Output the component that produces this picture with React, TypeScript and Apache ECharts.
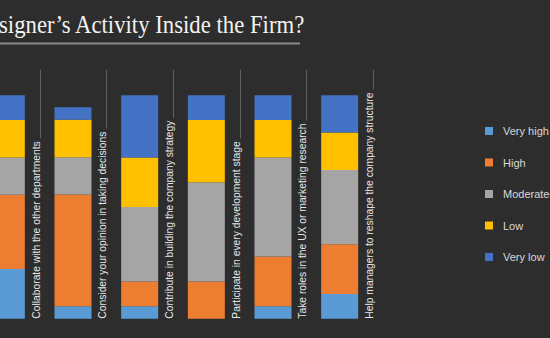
import React, { useEffect, useRef } from "react";
import * as echarts from "echarts";

const categories = [
  "Collaborate with the other departments",
  "Consider your opinion in taking decisions",
  "Contribute in building the company strategy",
  "Participate in every development stage",
  "Take roles in the UX or marketing research",
  "Help managers to reshape the company structure",
];
const seriesNames = ["Very high", "High", "Moderated", "Low", "Very low"];
const veryHigh = [22.2, 5.6, 5.6, 0, 5.6, 11.1];
const high = [33.3, 50.0, 11.1, 16.7, 22.2, 22.2];
const moderated = [16.7, 16.7, 33.3, 44.4, 44.4, 33.3];
const low = [16.7, 16.7, 22.2, 27.8, 16.7, 16.7];
const veryLow = [11.1, 5.6, 27.8, 11.1, 11.1, 16.7];
const titleText = "signer\u2019s Activity Inside the Firm?";

const BG = "#2d2d2d";
const colors = ["#5b9bd5", "#ed7d31", "#a5a5a5", "#ffc000", "#4472c4"];
const SHIFT = 27;

export default function App() {
  const ref = useRef<HTMLDivElement>(null);
  useEffect(() => {
    document.body.style.margin = "0";
    const chart = echarts.init(ref.current!, null, { renderer: "svg" });
    const values = [veryHigh, high, moderated, low, veryLow];
    const barSeries = values.map((d, k) => ({
      name: seriesNames[k],
      type: "bar",
      stack: "total",
      data: d,
      barWidth: 37,
      itemStyle: { color: colors[k] },
    }));
    const labelSeries = {
      type: "custom",
      silent: true,
      z: 5,
      clip: false,
      data: categories.map((_, i) => [i]),
      encode: { x: 0 },
      renderItem: (params: any, api: any) => {
        const i = api.value(0);
        const bottom = api.coord([i, 0]);
        const top = api.coord([i, 100]);
        const half = api.size([1, 0])[0] / 2;
        const bx = Math.round(bottom[0] + half) + 0.5;
        return {
          type: "group",
          children: [
            {
              type: "line",
              shape: { x1: bx, y1: top[1] - 25.5, x2: bx, y2: bottom[1] },
              style: { stroke: "#626262", lineWidth: 1 },
            },
            {
              type: "text",
              x: bx - 3.8,
              y: bottom[1],
              rotation: Math.PI / 2,
              style: {
                text: categories[params.dataIndex],
                x: 0,
                y: 0,
                align: "left",
                verticalAlign: "middle",
                fill: "#e6e6e6",
                fontSize: 10.3,
                fontFamily: "Liberation Sans",
                backgroundColor: BG,
                padding: [1, 3, 1, 0],
              },
            },
          ],
        };
      },
    };
    chart.setOption({
      animation: false,
      backgroundColor: BG,
      grid: { left: 0, width: 400, top: 95.3, height: 223.4 },
      xAxis: {
        type: "category",
        data: categories,
        boundaryGap: true,
        axisLine: { show: false },
        axisTick: { show: false },
        axisLabel: { show: false },
        splitLine: { show: false },
      },
      yAxis: {
        type: "value",
        min: 0,
        max: 100,
        show: false,
      },
      legend: {
        data: seriesNames,
        orient: "vertical",
        left: 485 + SHIFT,
        top: 124,
        padding: 0,
        itemWidth: 8,
        itemHeight: 8,
        itemGap: 17.5,
        icon: "rect",
        textStyle: {
          color: "#d9d9d9",
          fontSize: 11,
          fontFamily: "Liberation Sans",
          lineHeight: 14,
          padding: [0, 0, 0, 5],
        },
      },
      graphic: [
        {
          type: "text",
          x: SHIFT - 1,
          y: 25,
          scaleX: 0.91,
          style: {
            text: titleText,
            fill: "#f2f2f2",
            fontSize: 25,
            fontFamily: "Liberation Serif",
            verticalAlign: "middle",
            align: "left",
          },
        },
        {
          type: "line",
          shape: { x1: SHIFT, y1: 43.5, x2: SHIFT + 300, y2: 43.5 },
          style: { stroke: "#8a8a8a", lineWidth: 2 },
        },
      ],
      series: [...barSeries, labelSeries],
    });
    return () => chart.dispose();
  }, []);
  return (
    <div
      ref={ref}
      style={{ position: "fixed", left: -SHIFT, top: 0, width: 550 + SHIFT, height: 338, background: BG }}
    />
  );
}
